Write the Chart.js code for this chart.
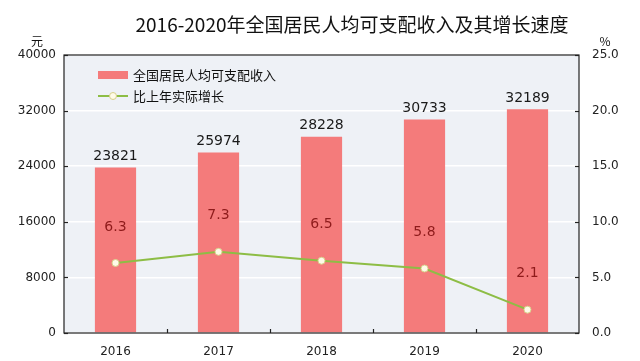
<!DOCTYPE html>
<html>
<head>
<meta charset="utf-8">
<script src="https://cdn.jsdelivr.net/npm/chart.js@4.4.0/dist/chart.umd.min.js"></script>
<style>
  html, body { margin: 0; padding: 0; background: #fff; }
  #wrap { width: 640px; height: 361px; position: relative; }
</style>
</head>
<body>
<div id="wrap"><canvas id="incomeChart" width="640" height="361"></canvas></div>
<script>
const years = ["2016", "2017", "2018", "2019", "2020"];
const income = [23821, 25974, 28228, 30733, 32189];
const growth = [6.3, 7.3, 6.5, 5.8, 2.1];
const incomeLabel = "全国居民人均可支配收入";
const growthLabel = "比上年实际增长";
const chartTitle = "2016-2020年全国居民人均可支配收入及其增长速度";

const barColor = "#f47b7b";
const lineColor = "#8dbd45";
const tickFont = { family: "'DejaVu Sans', sans-serif", size: 12 };

// draws plot background, frame, title, legend and value labels
const decorPlugin = {
  id: "decor",
  beforeDraw(chart) {
    const { ctx, chartArea: a } = chart;
    ctx.save();
    ctx.fillStyle = "#eef1f6";
    ctx.fillRect(a.left, a.top, a.right - a.left, a.bottom - a.top);
    ctx.restore();
  },
  afterDatasetsDraw(chart) {
    const { ctx, chartArea: a } = chart;
    const x = chart.scales.x;
    ctx.save();

    // frame
    ctx.strokeStyle = "#222";
    ctx.lineWidth = 1.2;
    ctx.strokeRect(a.left, a.top, a.right - a.left, a.bottom - a.top);

    // x ticks at category boundaries, pointing up
    const step = x.getPixelForValue(1) - x.getPixelForValue(0);
    for (let i = 1; i < years.length; i++) {
      const px = Math.round(x.getPixelForValue(i) - step / 2) + 0.5;
      ctx.beginPath();
      ctx.moveTo(px, a.bottom);
      ctx.lineTo(px, a.bottom - 4);
      ctx.stroke();
    }
    // y ticks pointing inward
    [chart.scales.y, chart.scales.y1].forEach((s) => {
      s.ticks.forEach((t) => {
        const py = Math.round(s.getPixelForValue(t.value)) + 0.5;
        ctx.beginPath();
        if (s.id === "y") { ctx.moveTo(a.left, py); ctx.lineTo(a.left + 4, py); }
        else { ctx.moveTo(a.right, py); ctx.lineTo(a.right - 4, py); }
        ctx.stroke();
      });
    });

    // title and units
    ctx.fillStyle = "#111";
    ctx.textBaseline = "middle";
    ctx.textAlign = "center";
    ctx.font = "19px 'Noto Sans CJK SC', sans-serif";
    ctx.fillText(chartTitle, 352, 25);
    ctx.font = "12px 'Noto Sans CJK SC', sans-serif";
    ctx.fillText("元", 37, 41);
    ctx.fillText("%", 605, 41);

    // legend
    ctx.textAlign = "left";
    ctx.font = "13px 'Noto Sans CJK SC', sans-serif";
    ctx.fillStyle = barColor;
    ctx.fillRect(98, 71, 30, 8);
    ctx.fillStyle = "#111";
    ctx.fillText(incomeLabel, 133, 75);
    ctx.strokeStyle = lineColor;
    ctx.lineWidth = 2;
    ctx.beginPath();
    ctx.moveTo(98, 96);
    ctx.lineTo(128, 96);
    ctx.stroke();
    ctx.fillStyle = "#fffbe8";
    ctx.strokeStyle = "#d7d08a";
    ctx.lineWidth = 1;
    ctx.beginPath();
    ctx.arc(113, 96, 3.5, 0, Math.PI * 2);
    ctx.fill();
    ctx.stroke();
    ctx.fillStyle = "#111";
    ctx.fillText(growthLabel, 133, 96);

    // value labels
    ctx.textAlign = "center";
    ctx.font = "14px 'DejaVu Sans', sans-serif";
    const barMeta = chart.getDatasetMeta(0);
    barMeta.data.forEach((el, i) => {
      ctx.fillStyle = "#1a1a1a";
      ctx.fillText(String(income[i]), el.x, el.y - 11);
    });
    const lineMeta = chart.getDatasetMeta(1);
    lineMeta.data.forEach((el, i) => {
      ctx.fillStyle = "#8e1b1b";
      ctx.fillText(growth[i].toFixed(1), el.x, el.y - 36);
    });
    ctx.restore();
  },
};

new Chart(document.getElementById("incomeChart").getContext("2d"), {
  type: "bar",
  data: {
    labels: years,
    datasets: [
      {
        type: "bar",
        label: incomeLabel,
        data: income,
        yAxisID: "y",
        backgroundColor: barColor,
        barPercentage: 0.8,
        categoryPercentage: 0.5,
        order: 2,
      },
      {
        type: "line",
        label: growthLabel,
        data: growth,
        yAxisID: "y1",
        borderColor: lineColor,
        borderWidth: 2,
        pointRadius: 3.5,
        pointBackgroundColor: "#fffbe8",
        pointBorderColor: "#d7d08a",
        pointBorderWidth: 1,
        tension: 0,
        order: 1,
      },
    ],
  },
  options: {
    responsive: false,
    animation: false,
    layout: { padding: { top: 55, left: 0, right: 0, bottom: 0 } },
    plugins: {
      legend: { display: false },
      title: { display: false },
      tooltip: { enabled: false },
    },
    scales: {
      x: {
        grid: { display: false },
        border: { display: false },
        ticks: { color: "#222", font: tickFont, padding: 4 },
        afterFit(s) { s.height = 28; },
      },
      y: {
        position: "left",
        min: 0,
        max: 40000,
        ticks: {
          stepSize: 8000,
          color: "#222",
          font: tickFont,
          padding: 8,
          callback: (v) => String(v),
        },
        grid: { color: "#ffffff", lineWidth: 1.5, drawTicks: false },
        border: { display: false },
        afterFit(s) { s.width = 64; },
      },
      y1: {
        position: "right",
        min: 0,
        max: 25,
        ticks: {
          stepSize: 5,
          color: "#222",
          font: tickFont,
          padding: 13,
          callback: (v) => v.toFixed(1),
        },
        grid: { display: false, drawTicks: false },
        border: { display: false },
        afterFit(s) { s.width = 61; },
      },
    },
  },
  plugins: [decorPlugin],
});
</script>
</body>
</html>
